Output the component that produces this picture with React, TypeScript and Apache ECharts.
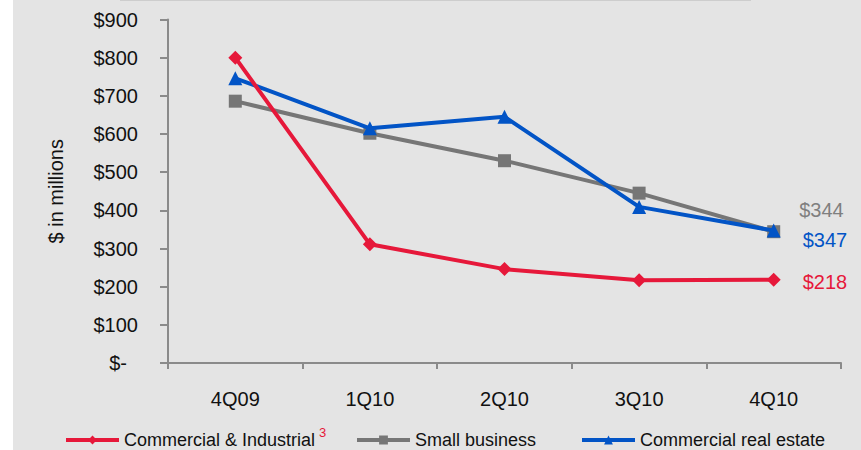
import React, { useEffect, useRef } from "react";
import * as echarts from "echarts";

const categories = ["4Q09", "1Q10", "2Q10", "3Q10", "4Q10"];
const commercialIndustrial = [800, 311, 246, 217, 218];
const smallBusiness = [686, 602, 530, 445, 344];
const commercialRealEstate = [746, 615, 645, 409, 347];
const yTicks = { min: 0, max: 900, interval: 100 };

const RED = "#e6183a";
const GRAY = "#767676";
const BLUE = "#0254c6";
const AXIS = "#8a8a8a";
const FONT = "Liberation Sans, Arial, sans-serif";

function withEndLabel(values: number[], color: string, offset: [number, number]) {
  return values.map((v, i) =>
    i === values.length - 1
      ? {
          value: v,
          label: {
            show: true,
            position: "right",
            offset,
            formatter: (p: any) => "$" + p.value,
            color,
            fontSize: 20,
            fontFamily: FONT,
          },
        }
      : v
  );
}

export default function App() {
  const ref = useRef<HTMLDivElement>(null);
  useEffect(() => {
    document.body.style.margin = "0";
    const chart = echarts.init(ref.current!, null, { renderer: "svg" });
    const legendBase = {
      top: 431,
      itemWidth: 53,
      itemHeight: 11,
      padding: 0,
      lineStyle: { width: 4 },
      textStyle: { fontSize: 18, fontFamily: FONT, color: "#111" },
    };
    chart.setOption({
      animation: false,
      backgroundColor: "#e4e4e4",
      grid: { left: 168, right: 20, top: 19.5, bottom: 87 },
      graphic: [
        { type: "rect", left: 0, top: 0, shape: { width: 13, height: 450 }, style: { fill: "#ffffff" }, silent: true },
        { type: "rect", left: 120, top: 0, shape: { width: 631, height: 1 }, style: { fill: "#cdcdcd" }, silent: true },
        {
          type: "text",
          left: 319,
          top: 426,
          style: { text: "3", fill: RED, fontSize: 13, fontFamily: FONT },
        },
      ],
      legend: [
        { ...legendBase, left: 64, data: ["Commercial & Industrial"] },
        { ...legendBase, left: 355, data: ["Small business"] },
        { ...legendBase, left: 580, data: ["Commercial real estate"] },
      ],
      xAxis: {
        type: "category",
        data: categories,
        boundaryGap: true,
        axisLine: { lineStyle: { color: AXIS, width: 2 } },
        axisTick: { show: true, length: 6, lineStyle: { color: AXIS, width: 2 } },
        axisLabel: { fontSize: 20, fontFamily: FONT, color: "#111", margin: 26 },
        splitLine: { show: false },
      },
      yAxis: {
        type: "value",
        min: yTicks.min,
        max: yTicks.max,
        interval: yTicks.interval,
        name: "$ in millions",
        nameLocation: "middle",
        nameGap: 102,
        nameTextStyle: { fontSize: 20, fontFamily: FONT, color: "#111" },
        axisLine: { show: true, lineStyle: { color: AXIS, width: 2 } },
        axisTick: { show: true, length: 8, lineStyle: { color: AXIS, width: 2 } },
        splitLine: { show: false },
        axisLabel: {
          fontSize: 20,
          fontFamily: FONT,
          color: "#111",
          margin: 30,
          formatter: (v: number) => (v === 0 ? "{d|$-}" : "$" + v),
          rich: { d: { fontSize: 20, fontFamily: FONT, color: "#111", padding: [0, 11, 0, 0] } },
        },
      },
      series: [
        {
          name: "Small business",
          type: "line",
          z: 2,
          data: withEndLabel(smallBusiness, "#7f7f7f", [14, -22]),
          symbol: "rect",
          symbolSize: 13,
          lineStyle: { color: GRAY, width: 4 },
          itemStyle: { color: GRAY },
        },
        {
          name: "Commercial real estate",
          type: "line",
          z: 3,
          data: withEndLabel(commercialRealEstate, BLUE, [17, 9]),
          symbol: "triangle",
          symbolSize: 14,
          lineStyle: { color: BLUE, width: 4 },
          itemStyle: { color: BLUE },
        },
        {
          name: "Commercial & Industrial",
          type: "line",
          z: 4,
          data: withEndLabel(commercialIndustrial, RED, [17, 2]),
          symbol: "diamond",
          symbolSize: 14,
          lineStyle: { color: RED, width: 4 },
          itemStyle: { color: RED },
        },
      ],
    });
    return () => chart.dispose();
  }, []);
  return <div ref={ref} style={{ width: 861, height: 450 }} />;
}
